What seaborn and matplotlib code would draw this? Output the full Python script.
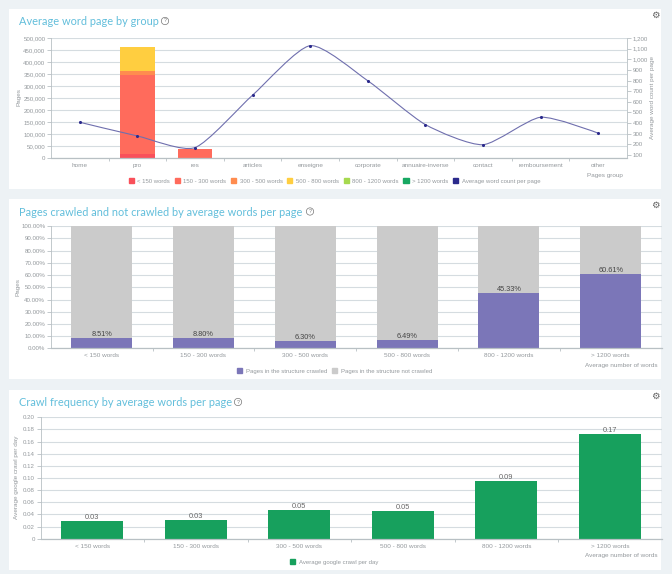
import numpy as np
import pandas as pd
import matplotlib
matplotlib.use('Agg')
import matplotlib.pyplot as plt
import seaborn as sns
from matplotlib.patches import Patch, PathPatch, Rectangle
from matplotlib.path import Path
from matplotlib.ticker import FuncFormatter

W, H = 672, 574

groups = ['home', 'pro', 'res', 'articles', 'enseigne', 'corporate', 'annuaire-inverse', 'contact', 'remboursement', 'other']
lt150 = [0, 18000, 0, 0, 0, 0, 0, 0, 0, 0]
w150_300 = [0, 329000, 37000, 0, 0, 0, 0, 0, 0, 0]
w300_500 = [0, 15000, 0, 0, 0, 0, 0, 0, 0, 0]
w500_800 = [0, 99000, 0, 0, 0, 0, 0, 0, 0, 0]
avg_words = [408, 279, 170, 663, 1128, 798, 386, 197, 455, 305]

stack_names = ['< 150 words', '150 - 300 words', '300 - 500 words', '500 - 800 words', '800 - 1200 words', '> 1200 words']
stack_colors = ['#f9505a', '#ff6b5c', '#ff8c4f', '#ffce40', '#a6d94f', '#17a862']
line_color = '#2b2a8c'

word_bins = ['< 150 words', '150 - 300 words', '300 - 500 words', '500 - 800 words', '800 - 1200 words', '> 1200 words']
crawled = [8.51, 8.80, 6.30, 6.49, 45.33, 60.61]
not_crawled = [91.49, 91.20, 93.70, 93.51, 54.67, 39.39]
crawl_freq = [0.029, 0.0302, 0.0473, 0.0462, 0.0945, 0.173]
crawl_labels = ['0.03', '0.03', '0.05', '0.05', '0.09', '0.17']

TICK = '#94999d'
GRID = '#d5dce0'
AXIS = '#b8c0c4'
TITLE = '#62bedb'


def px_axes(fig, left, top, right, bottom):
    return fig.add_axes([left / W, 1 - bottom / H, (right - left) / W, (bottom - top) / H])


def ftext(fig, x, y, s, **kw):
    kw.setdefault('color', TICK)
    kw.setdefault('fontsize', 4.6)
    kw.setdefault('va', 'center')
    return fig.text(x / W, 1 - y / H, s, **kw)


def style_axes(ax, n):
    sns.despine(ax=ax, top=True, right=True)
    ax.set_facecolor('none')
    ax.spines['left'].set_color(AXIS)
    ax.spines['bottom'].set_color(AXIS)
    ax.spines['left'].set_linewidth(0.6)
    ax.spines['bottom'].set_linewidth(0.9)
    ax.set_axisbelow(True)
    ax.grid(axis='y', color=GRID, linewidth=0.8)
    ax.grid(axis='x', visible=False)
    ax.set_xlim(-0.5, n - 0.5)
    ax.set_xlabel('')
    ax.set_ylabel('')
    ax.set_xticks(np.arange(0.5, n - 1), minor=True)
    ax.tick_params(axis='x', which='minor', length=2, width=0.6, color=AXIS, bottom=True)
    ax.tick_params(axis='x', which='major', length=0, labelsize=4.6, labelcolor=TICK, pad=3.5)
    ax.tick_params(axis='y', length=3, width=0.6, color=AXIS, labelsize=4.4, labelcolor=TICK, pad=1, left=True)


def spline_path(xs, ys, k=0.22):
    # control points only, the curve goes through every data point
    verts = [(xs[0], ys[0])]
    codes = [Path.MOVETO]
    right = (xs[0], ys[0])
    for i in range(1, len(xs)):
        x, y = xs[i], ys[i]
        if i < len(xs) - 1:
            slope = (ys[i + 1] - ys[i - 1]) / (xs[i + 1] - xs[i - 1])
            left = (x - k, y - k * slope)
            nxt = (x + k, y + k * slope)
        else:
            left = nxt = (x, y)
        verts += [right, left, (x, y)]
        codes += [Path.CURVE4, Path.CURVE4, Path.CURVE4]
        right = nxt
    return Path(verts, codes)


def panel_decor(fig, top, bottom, title, title_y, help_x):
    fig.add_artist(Rectangle((9 / W, 1 - bottom / H), 652 / W, (bottom - top) / H, transform=fig.transFigure,
                             facecolor='white', edgecolor='none', zorder=-1))
    ftext(fig, 19, title_y + 0.5, title, color=TITLE, fontsize=7.9, family='Lato')
    ftext(fig, help_x, title_y, '?', color='#777777', fontsize=3.8, ha='center',
          bbox=dict(boxstyle='circle,pad=0.22', facecolor='white', edgecolor='#777777', linewidth=0.5))
    ftext(fig, 655, top + 6.5, '\u2699', color='#5f5f5f', fontsize=6.8, ha='center', family='DejaVu Sans')


def legend(fig, handles, labels, cx, cy):
    fig.legend(handles, labels, loc='center', bbox_to_anchor=(cx / W, 1 - cy / H), ncol=len(labels), frameon=False,
               fontsize=4.35, labelcolor=TICK, handlelength=0.85, handleheight=0.85, handletextpad=0.6,
               columnspacing=0.75, borderpad=0, borderaxespad=0)


def main():
    sns.set_style('white')
    plt.rcParams['font.family'] = ['Liberation Sans', 'DejaVu Sans']
    fig = plt.figure(figsize=(W / 100, H / 100), dpi=100, facecolor='#edf2f5')

    # chart 1
    panel_decor(fig, 9, 189, 'Average word page by group', 21, 165)
    ax = px_axes(fig, 51, 38, 627, 158)
    bottom = np.zeros(len(groups))
    for vals, col in zip([lt150, w150_300, w300_500, w500_800], stack_colors):
        sns.barplot(x=groups, y=vals, color=col, saturation=1, width=0.6, bottom=bottom, linewidth=0, ax=ax)
        bottom = bottom + np.array(vals)
    style_axes(ax, len(groups))
    ax.set_ylim(0, 500000)
    ax.set_yticks(np.arange(0, 500001, 50000))
    ax.yaxis.set_major_formatter(FuncFormatter(lambda v, p: f'{int(v):,}'))

    ax2 = ax.twinx()
    ax2.set_ylim(72, 1200)
    ax2.set_yticks(np.arange(100, 1201, 100))
    ax2.yaxis.set_major_formatter(FuncFormatter(lambda v, p: f'{int(v):,}'))
    ax2.tick_params(axis='y', length=3, width=0.6, color=AXIS, labelsize=4.4, labelcolor=TICK, pad=1)
    ax2.grid(False)
    ax2.set_facecolor('none')
    for s in ['top', 'left', 'bottom']:
        ax2.spines[s].set_visible(False)
    ax2.spines['right'].set_color(AXIS)
    ax2.spines['right'].set_linewidth(0.6)
    xpos = np.arange(len(groups))
    ax2.add_patch(PathPatch(spline_path(list(xpos), avg_words), facecolor='none', edgecolor='#6f6fae', linewidth=0.8))
    sns.scatterplot(x=xpos, y=avg_words, color=line_color, s=5, linewidth=0, ax=ax2, zorder=5)

    ftext(fig, 19, 97, 'Pages', rotation=90, ha='center')
    ftext(fig, 652.5, 97, 'Average word count per page', rotation=90, ha='center')
    ftext(fig, 622.5, 175, 'Pages group', ha='right')
    handles = [Patch(color=c) for c in stack_colors] + [Patch(color=line_color)]
    legend(fig, handles, stack_names + ['Average word count per page'], 334.5, 181)

    # chart 2
    panel_decor(fig, 199, 379, 'Pages crawled and not crawled by average words per page', 211.5, 310)
    ax = px_axes(fig, 50.8, 226.3, 661.6, 348.3)
    df = pd.DataFrame({'bin': word_bins, 'crawled': crawled, 'not_crawled': not_crawled})
    sns.barplot(data=df, x='bin', y='crawled', color='#7b76b8', saturation=1, width=0.6, linewidth=0, ax=ax)
    bars = ax.containers[0]
    sns.barplot(data=df, x='bin', y='not_crawled', color='#cbcbcb', saturation=1, width=0.6, linewidth=0,
                bottom=df['crawled'].values, ax=ax)
    ax.bar_label(bars, labels=[f'{v:.2f}%' for v in crawled], padding=0, fontsize=5.3, color='#444444')
    style_axes(ax, len(word_bins))
    ax.set_ylim(0, 100)
    ax.set_yticks(np.arange(0, 101, 10))
    ax.yaxis.set_major_formatter(FuncFormatter(lambda v, p: f'{v:.2f}%'))
    ftext(fig, 17.7, 287, 'Pages', rotation=90, ha='center')
    ftext(fig, 658, 365, 'Average number of words', ha='right')
    legend(fig, [Patch(color='#7b76b8'), Patch(color='#cbcbcb')],
           ['Pages in the structure crawled', 'Pages in the structure not crawled'], 334.5, 371)

    # chart 3
    panel_decor(fig, 390, 570, 'Crawl frequency by average words per page', 402, 238)
    ax = px_axes(fig, 40.5, 417.3, 661.7, 538.7)
    sns.barplot(x=word_bins, y=crawl_freq, color='#17a05d', saturation=1, width=0.6, linewidth=0, ax=ax)
    ax.bar_label(ax.containers[0], labels=crawl_labels, padding=0, fontsize=5.3, color='#666666')
    style_axes(ax, len(word_bins))
    ax.set_ylim(0, 0.2)
    ax.set_yticks(np.arange(0, 0.201, 0.02))
    ax.yaxis.set_major_formatter(FuncFormatter(lambda v, p: '0' if v < 1e-9 else f'{v:.2f}'))
    ftext(fig, 17, 477, 'Average google crawl per day', rotation=90, ha='center')
    ftext(fig, 658, 555.7, 'Average number of words', ha='right')
    legend(fig, [Patch(color='#17a05d')], ['Average google crawl per day'], 334, 562)

    fig.savefig('out.png', dpi=100, facecolor=fig.get_facecolor())


if __name__ == '__main__':
    main()
